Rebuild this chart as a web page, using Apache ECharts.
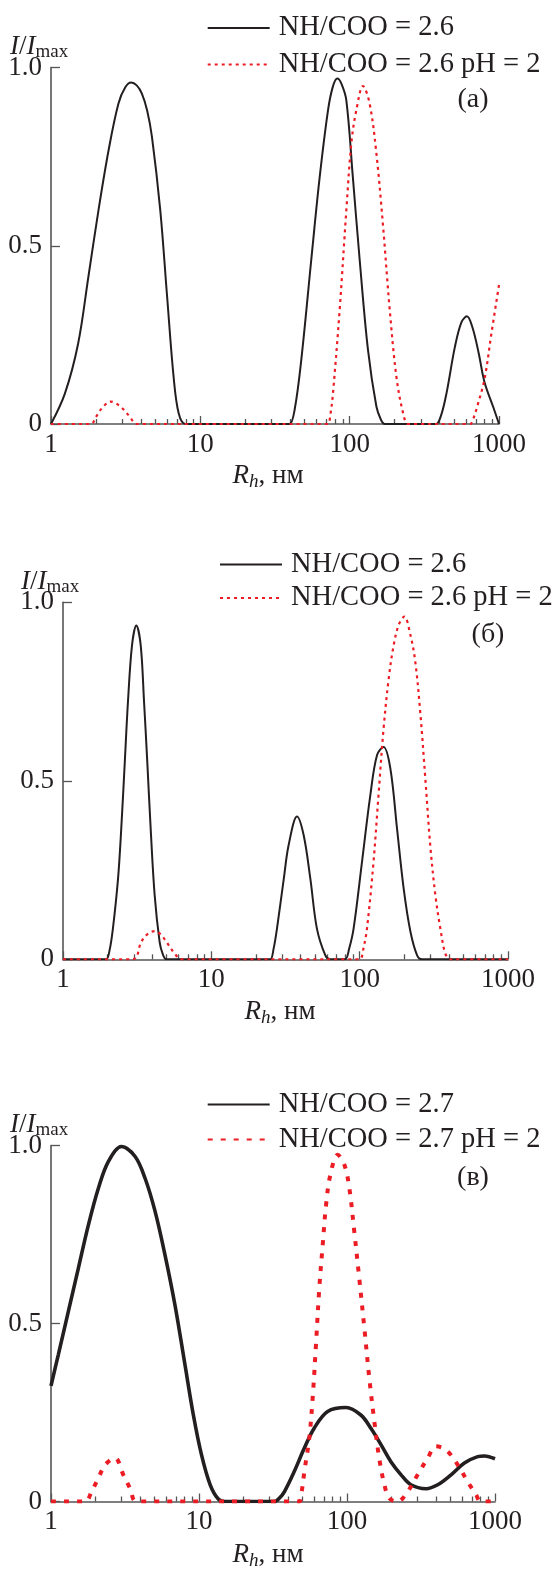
<!DOCTYPE html>
<html>
<head>
<meta charset="utf-8">
<script src="https://cdn.jsdelivr.net/npm/echarts@6.0.0/dist/echarts.min.js"></script>
<style>
html, body { margin: 0; padding: 0; background: #fff; }
#chart { width: 552px; height: 1571px; }
</style>
</head>
<body>
<div id="chart"></div>
<script>
// axis ticks
const xLabelValues = [1, 10, 100, 1000]
const minorTickR = [2, 3, 4, 5, 6, 7, 8, 9, 20, 30, 40, 50, 60, 70, 80, 90, 200, 300, 400, 500, 600, 700, 800, 900]
const yTickValues = [0, 0.5, 1.0]

// legend names
const name26 = 'NH/COO = 2.6'
const name26ph = 'NH/COO = 2.6 pH = 2'
const name27 = 'NH/COO = 2.7'
const name27ph = 'NH/COO = 2.7 pH = 2'

// panel (а)
const aBlackR = [1, 1.24, 1.52, 1.78, 2.08, 2.43, 2.83, 3.15, 3.44, 3.75, 4.06, 4.4, 4.74, 5.39, 5.97, 6.62, 7.16, 7.93, 9, 36, 39.6, 42.8, 47.4, 55.3, 63, 71.6, 77, 82.6, 88, 95, 105, 116.7, 132.7, 151, 162, 172, 185, 350, 380, 410, 445, 507, 560, 610, 665, 730, 800, 916, 1000]
const aBlackI = [0, 0.086, 0.226, 0.413, 0.6, 0.768, 0.899, 0.945, 0.958, 0.95, 0.927, 0.88, 0.806, 0.6, 0.366, 0.133, 0.03, 0, 0, 0, 0, 0.04, 0.179, 0.46, 0.693, 0.88, 0.945, 0.969, 0.955, 0.908, 0.693, 0.46, 0.207, 0.049, 0.012, 0, 0, 0, 0, 0.025, 0.086, 0.217, 0.285, 0.302, 0.27, 0.2, 0.117, 0.047, 0]
const aRedR = [1, 1.85, 2.0, 2.2, 2.5, 2.9, 3.3, 3.8, 68, 71.6, 74.5, 77.3, 85.7, 95, 102.6, 110.8, 122.8, 136, 151, 167.5, 185.5, 205.5, 228, 245, 260, 620, 643, 680, 717, 800, 892, 1000]
const aRedI = [0, 0, 0.02, 0.045, 0.063, 0.05, 0.025, 0, 0, 0, 0.03, 0.086, 0.32, 0.6, 0.787, 0.88, 0.948, 0.899, 0.759, 0.553, 0.32, 0.133, 0.03, 0, 0, 0, 0, 0.02, 0.051, 0.126, 0.257, 0.39]

// panel (б)
const bBlackR = [1, 1.85, 1.96, 2.06, 2.17, 2.35, 2.47, 2.61, 2.74, 2.92, 3.12, 3.34, 3.52, 3.7, 3.9, 4.15, 4.48, 4.7, 4.97, 5.3, 23, 25, 26.3, 27.7, 30.8, 33.2, 37.8, 41.9, 46.5, 51.5, 58.7, 63, 68, 74, 80, 85, 91, 103.7, 118, 131, 145, 161, 178.6, 198, 220, 244, 263, 280, 1000]
const bBlackI = [0, 0, 0, 0.025, 0.086, 0.226, 0.366, 0.553, 0.72, 0.88, 0.935, 0.88, 0.72, 0.553, 0.366, 0.179, 0.049, 0.015, 0, 0, 0, 0, 0.03, 0.086, 0.226, 0.32, 0.4, 0.348, 0.226, 0.086, 0.011, 0, 0, 0, 0, 0.03, 0.086, 0.273, 0.46, 0.572, 0.595, 0.535, 0.366, 0.198, 0.077, 0.011, 0, 0, 0]
const bRedR = [1, 2.96, 3.37, 3.7, 4.15, 4.6, 4.97, 5.66, 6.28, 95, 101, 106, 112, 124, 134, 145, 157, 169.6, 183, 200, 220, 237, 256, 277, 299, 324, 350, 378, 408, 430, 1000]
const bRedI = [0, 0, 0.049, 0.07, 0.079, 0.068, 0.049, 0.016, 0, 0, 0, 0.03, 0.086, 0.273, 0.46, 0.647, 0.787, 0.88, 0.936, 0.96, 0.908, 0.834, 0.693, 0.507, 0.32, 0.179, 0.086, 0.016, 0, 0, 0]

// panel (в)
const cBlackR = [1, 1.12, 1.31, 1.53, 1.79, 2.09, 2.44, 3.0, 3.7, 4.32, 5.05, 5.89, 6.88, 8.04, 9.16, 10.4, 11.9, 13.5, 15, 17, 29, 32.3, 35, 37.8, 44, 51.5, 60, 74, 98.5, 124, 145, 170, 198, 232, 270, 342, 410, 505, 621, 764, 850, 1000]
const cBlackI = [0.325, 0.412, 0.534, 0.655, 0.777, 0.88, 0.955, 0.997, 0.969, 0.908, 0.815, 0.693, 0.552, 0.384, 0.243, 0.131, 0.047, 0.007, 0, 0, 0, 0, 0.01, 0.028, 0.084, 0.15, 0.206, 0.253, 0.264, 0.243, 0.206, 0.159, 0.112, 0.075, 0.047, 0.036, 0.047, 0.075, 0.108, 0.126, 0.128, 0.12]
const cRedR = [1, 1.7, 1.88, 2.09, 2.32, 2.71, 3.08, 3.42, 3.79, 44, 47.6, 49.5, 51.5, 55.6, 58.6, 61.7, 65, 68.5, 72.2, 77.2, 86.5, 96, 103.7, 112, 121, 131, 141.5, 153, 165, 179, 193, 220, 257, 300, 351, 399, 467, 560, 653, 744, 800, 950]
const cRedI = [0, 0, 0.028, 0.066, 0.103, 0.122, 0.075, 0.037, 0, 0, 0, 0.03, 0.084, 0.178, 0.29, 0.44, 0.6, 0.72, 0.833, 0.918, 0.974, 0.946, 0.88, 0.758, 0.627, 0.487, 0.346, 0.225, 0.122, 0.047, 0.009, 0, 0.028, 0.075, 0.122, 0.155, 0.145, 0.103, 0.056, 0.019, 0, 0]

const serif = '"Liberation Serif", "Times New Roman", serif'
const ink = '#231f20'
const red = '#ec1c24'
const axisGray = '#555555'

const zip = (xs, ys) => xs.map((x, i) => [x, ys[i]])

const panels = [
  {
    grid: { left: 51, top: 67.5, width: 448, height: 356.5 },
    legend: { left: 201.7, top: 8.5, itemGap: 7.5 },
    letter: { text: '(а)', x: 473, y: 100 },
    yName: { x: 10, y: 47 },
    xName: { x: 268, y: 476 },
    thick: false,
    lines: [
      { name: name26, R: aBlackR, I: aBlackI, color: ink },
      { name: name26ph, R: aRedR, I: aRedI, color: red, dotted: true }
    ]
  },
  {
    grid: { left: 63, top: 602.3, width: 445, height: 357 },
    legend: { left: 214, top: 545, itemGap: 4.5 },
    letter: { text: '(б)', x: 488, y: 635 },
    yName: { x: 21, y: 582 },
    xName: { x: 280, y: 1012 },
    thick: false,
    lines: [
      { name: name26, R: bBlackR, I: bBlackI, color: ink },
      { name: name26ph, R: bRedR, I: bRedI, color: red, dotted: true }
    ]
  },
  {
    grid: { left: 51, top: 1145.5, width: 444, height: 356 },
    legend: { left: 201.7, top: 1085, itemGap: 6 },
    letter: { text: '(в)', x: 473, y: 1178 },
    yName: { x: 10, y: 1125 },
    xName: { x: 268, y: 1555 },
    thick: true,
    lines: [
      { name: name27, R: cBlackR, I: cBlackI, color: ink },
      { name: name27ph, R: cRedR, I: cRedI, color: red, dotted: true }
    ]
  }
]

const axisLine = { show: true, onZero: false, lineStyle: { color: axisGray, width: 1.6 } }
const labelStyle = { fontFamily: serif, fontSize: 27, color: ink }

const option = {
  animation: false,
  backgroundColor: '#fff',
  grid: [],
  xAxis: [],
  yAxis: [],
  legend: [],
  series: [],
  graphic: []
}

panels.forEach((p, i) => {
  option.grid.push(Object.assign({ containLabel: false }, p.grid))
  // log axis: curves, labels and decade ticks
  option.xAxis.push({
    type: 'log',
    logBase: 10,
    min: 1,
    max: 1000,
    gridIndex: i,
    axisLine: axisLine,
    axisTick: { show: true, inside: true, length: 8, lineStyle: { color: axisGray, width: 1.3 } },
    axisLabel: Object.assign({ margin: 7, formatter: v => String(Math.round(v)) }, labelStyle),
    splitLine: { show: false }
  })
  // same range in log10 units, only for the minor ticks
  option.xAxis.push({
    type: 'value',
    min: 0,
    max: 3,
    gridIndex: i,
    position: 'bottom',
    axisLine: { show: false },
    axisTick: { show: true, inside: true, length: 5, customValues: minorTickR.map(v => Math.log10(v)), lineStyle: { color: axisGray, width: 1.3 } },
    axisLabel: { show: false },
    splitLine: { show: false }
  })
  option.yAxis.push({
    type: 'value',
    min: 0,
    max: 1,
    interval: 0.5,
    gridIndex: i,
    axisLine: axisLine,
    axisTick: { show: true, inside: true, length: 9, lineStyle: { color: axisGray, width: 1.3 } },
    axisLabel: Object.assign({ margin: 9, formatter: v => yTickValues.indexOf(v) > 0 ? v.toFixed(1) : '0' }, labelStyle),
    splitLine: { show: false }
  })

  p.lines.forEach(l => {
    const w = p.thick ? (l.dotted ? 4 : 3.6) : (l.dotted ? 2.2 : 2)
    option.series.push({
      type: 'line',
      name: l.name,
      xAxisIndex: 2 * i,
      yAxisIndex: i,
      data: zip(l.R, l.I),
      symbol: 'none',
      smooth: 0.35,
      z: l.dotted ? 3 : 2,
      itemStyle: { color: l.color },
      lineStyle: { color: l.color, width: w, type: l.dotted ? (p.thick ? [5, 8] : [3, 4]) : 'solid' }
    })
  })

  option.legend.push({
    data: p.lines.map(l => l.name),
    orient: 'vertical',
    left: p.legend.left,
    top: p.legend.top,
    itemGap: p.legend.itemGap,
    itemWidth: 62,
    itemHeight: 14,
    selectedMode: false,
    itemStyle: { opacity: 0 },
    textStyle: { fontFamily: serif, fontSize: 28.5, color: ink, lineHeight: 29, padding: [0, 0, 0, 4] }
  })

  option.graphic.push({
    type: 'text',
    x: p.letter.x,
    y: p.letter.y,
    style: { text: p.letter.text, font: '28px ' + serif, fill: ink, textAlign: 'center', textVerticalAlign: 'middle', align: 'center', verticalAlign: 'middle' }
  })
  option.graphic.push({
    type: 'text',
    x: p.yName.x,
    y: p.yName.y,
    style: {
      text: '{i|I}{n|/}{i|I}{s|max}',
      textAlign: 'left',
      textVerticalAlign: 'middle',
      align: 'left',
      verticalAlign: 'middle',
      rich: {
        i: { fontFamily: serif, fontStyle: 'italic', fontSize: 27, fill: ink, color: ink, lineHeight: 30 },
        n: { fontFamily: serif, fontSize: 27, fill: ink, color: ink, lineHeight: 30 },
        s: { fontFamily: serif, fontSize: 19, fill: ink, color: ink, lineHeight: 22, verticalAlign: 'bottom' }
      }
    }
  })
  option.graphic.push({
    type: 'text',
    x: p.xName.x,
    y: p.xName.y,
    style: {
      text: '{i|R}{s|h}{n|, нм}',
      textAlign: 'center',
      textVerticalAlign: 'middle',
      align: 'center',
      verticalAlign: 'middle',
      rich: {
        i: { fontFamily: serif, fontStyle: 'italic', fontSize: 27, fill: ink, color: ink, lineHeight: 30 },
        n: { fontFamily: serif, fontSize: 27, fill: ink, color: ink, lineHeight: 30 },
        s: { fontFamily: serif, fontStyle: 'italic', fontSize: 19, fill: ink, color: ink, lineHeight: 22, verticalAlign: 'bottom' }
      }
    }
  })
})

const chart = echarts.init(document.getElementById('chart'), null, { renderer: 'canvas' })
chart.setOption(option)
</script>
</body>
</html>
